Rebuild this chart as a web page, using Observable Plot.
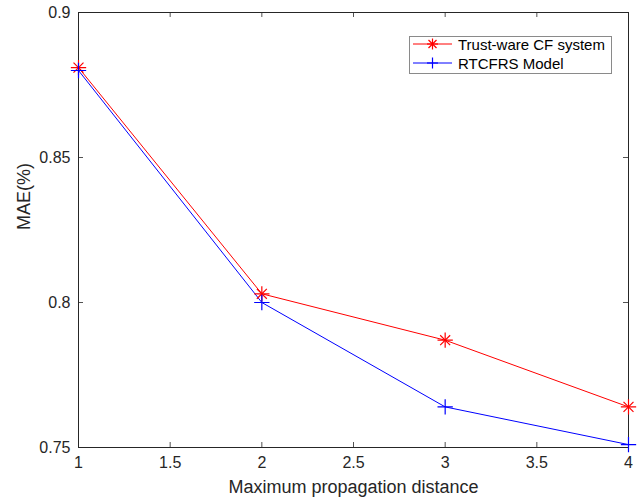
<!DOCTYPE html>
<html>
<head>
<meta charset="utf-8">
<script src="https://cdn.jsdelivr.net/npm/d3@7"></script>
<script src="https://cdn.jsdelivr.net/npm/@observablehq/plot@0.6"></script>
<style>
  html, body { margin: 0; padding: 0; background: #fff; }
  #wrap { position: relative; width: 643px; height: 504px; font-family: "Liberation Sans", Arial, Helvetica, sans-serif; }
  #legend { position: absolute; left: 409px; top: 36px; width: 203px; height: 38px; border: 1px solid #8a8a8a; background: #fff; box-sizing: border-box; }
  .row { position: absolute; left: 0; height: 18px; display: flex; align-items: center; font-size: 15px; color: #000; white-space: nowrap; }
  .row svg { margin-left: 3px; margin-right: 5px; }
</style>
</head>
<body>
<div id="wrap"></div>
<script>
const distances = [1, 2, 3, 4];
const trustWare = [0.881, 0.803, 0.787, 0.764];
const rtcfrs = [0.880, 0.800, 0.764, 0.751];
const seriesNames = ["Trust-ware CF system", "RTCFRS Model"];
const xTicks = [1, 1.5, 2, 2.5, 3, 3.5, 4];
const yTicks = [0.75, 0.8, 0.85, 0.9];
const xLabel = "Maximum propagation distance";
const yLabel = "MAE(%)";

const red = "#ff0000", blue = "#0000ff", axisColor = "#262626";
const redData = distances.map((d, i) => ({x: d, y: trustWare[i]}));
const blueData = distances.map((d, i) => ({x: d, y: rtcfrs[i]}));

const xMin = 1, xMax = 4, yMin = 0.75, yMax = 0.9;
const tx = 0.0273, ty = 0.00172; // tick length (≈5px) in data units

const chart = Plot.plot({
  width: 643,
  height: 504,
  marginLeft: 78,
  marginRight: 15,
  marginTop: 12,
  marginBottom: 57,
  style: {fontFamily: "Liberation Sans, Arial, Helvetica, sans-serif", background: "white", overflow: "visible"},
  x: {domain: [xMin, xMax], axis: null},
  y: {domain: [yMin, yMax], axis: null},
  marks: [
    Plot.ruleX(xTicks, {x: d => d, y1: yMin, y2: yMin + ty, stroke: axisColor, strokeWidth: 0.8}),
    Plot.ruleX(xTicks, {x: d => d, y1: yMax, y2: yMax - ty, stroke: axisColor, strokeWidth: 0.8}),
    Plot.ruleY(yTicks, {y: d => d, x1: xMin, x2: xMin + tx, stroke: axisColor, strokeWidth: 0.8}),
    Plot.ruleY(yTicks, {y: d => d, x1: xMax, x2: xMax - tx, stroke: axisColor, strokeWidth: 0.8}),
    Plot.frame({stroke: axisColor, strokeWidth: 1}),
    Plot.axisX(xTicks, {tickSize: 0, tickPadding: 9, fontSize: 16, fill: "#262626", label: null, tickFormat: d => String(d)}),
    Plot.axisY(yTicks, {tickSize: 0, tickPadding: 8, fontSize: 16, fill: "#262626", label: null, tickFormat: d => String(d)}),
    Plot.text([xLabel], {frameAnchor: "bottom", dy: 45, text: d => d, fontSize: 18, fill: "#262626"}),
    Plot.text([yLabel], {frameAnchor: "left", dx: -54, rotate: -90, text: d => d, fontSize: 18, fill: "#262626"}),
    Plot.line(redData, {x: "x", y: "y", stroke: red, strokeWidth: 1}),
    Plot.line(blueData, {x: "x", y: "y", stroke: blue, strokeWidth: 1}),
    Plot.dot(redData, {x: "x", y: "y", symbol: "plus", r: 5, stroke: red, strokeWidth: 1.2}),
    Plot.dot(redData, {x: "x", y: "y", symbol: "times", r: 4.6, stroke: red, strokeWidth: 1.2}),
    Plot.dot(blueData, {x: "x", y: "y", symbol: "plus", r: 5, stroke: blue, strokeWidth: 1.2})
  ]
});

const wrap = document.getElementById("wrap");
wrap.appendChild(chart);

const legend = document.createElement("div");
legend.id = "legend";
const sample = (color, isStar) => `<svg width="40" height="12" viewBox="0 0 40 12">
  <line x1="0" y1="6" x2="39" y2="6" stroke="${color}" stroke-width="1"/>
  <line x1="19.5" y1="0.5" x2="19.5" y2="11.5" stroke="${color}" stroke-width="1.2"/>
  <line x1="14" y1="6" x2="25" y2="6" stroke="${color}" stroke-width="1.2"/>
  ${isStar ? `<line x1="15.5" y1="2" x2="23.5" y2="10" stroke="${color}" stroke-width="1.2"/><line x1="15.5" y1="10" x2="23.5" y2="2" stroke="${color}" stroke-width="1.2"/>` : ""}
</svg>`;
legend.innerHTML =
  `<div class="row" style="top:-2px">${sample(red, true)}<span>${seriesNames[0]}</span></div>` +
  `<div class="row" style="top:17px">${sample(blue, false)}<span>${seriesNames[1]}</span></div>`;
wrap.appendChild(legend);
</script>
</body>
</html>
